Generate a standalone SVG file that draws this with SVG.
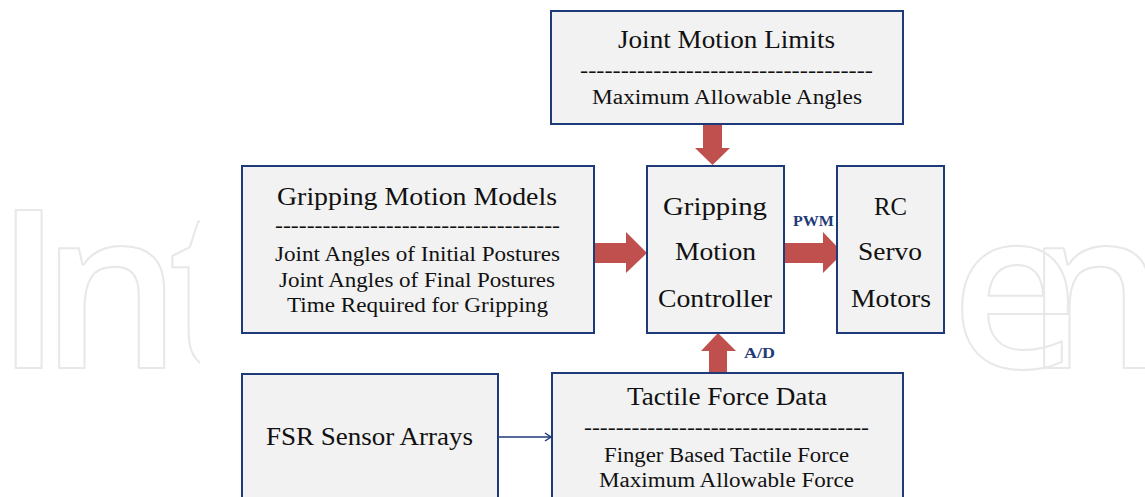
<svg xmlns="http://www.w3.org/2000/svg" width="1145" height="497" viewBox="0 0 1145 497">
<style>
.box{fill:#f2f2f2;stroke:#1f3a78;stroke-width:2}
.t{font-family:"Liberation Serif",serif;fill:#111;text-anchor:middle}
.tt{font-size:25px}
.ts{font-size:20px}
.lbl{font-family:"Liberation Serif",serif;font-weight:bold;font-size:15px;fill:#1f3a78;text-anchor:middle}
.red{fill:#c0504d}
.wm{font-family:"Open Sans",sans-serif;font-weight:600;font-size:221px;fill:none;stroke:#e8e8e8;stroke-width:2;stroke-linejoin:round}
</style>
<defs>
<marker id="chev" markerWidth="10" markerHeight="10" refX="8" refY="5" orient="auto" markerUnits="userSpaceOnUse">
<path d="M2,1 L8,5 L2,9" fill="none" stroke="#1f3a78" stroke-width="1.5"/>
</marker>
</defs>
<rect width="1145" height="497" fill="#fff"/>
<g id="watermark">
<text class="wm" x="-5 41 168" y="368">Int</text>
<text class="wm" x="951 1026" y="368">en</text>
<rect x="200" y="0" width="755" height="497" fill="#fff"/>
</g>
<g id="connectors">
<polygon class="red" points="703,124 722,124 722,148 730,148 712.5,165 695,148 703,148"/>
<polygon class="red" points="594,243 626,243 626,232 647,253 626,273 626,263 594,263"/>
<polygon class="red" points="785,243 823,243 823,232 843,253 823,273 823,263 785,263"/>
<polygon class="red" points="709,373 727,373 727,351 736,351 718,333 701,351 709,351"/>
<line x1="498" y1="437" x2="551" y2="437" stroke="#1f3a78" stroke-width="1.5" marker-end="url(#chev)"/>
<text class="lbl" x="813.5" y="226" textLength="41" lengthAdjust="spacingAndGlyphs">PWM</text>
<text class="lbl" x="759.5" y="358" textLength="31" lengthAdjust="spacingAndGlyphs">A/D</text>
</g>
<g id="joint-limits">
<rect class="box" x="551" y="11" width="352" height="113"/>
<text class="t tt" x="726.5" y="48" textLength="217" lengthAdjust="spacingAndGlyphs">Joint Motion Limits</text>
<text class="t ts" x="726.5" y="77" textLength="293" lengthAdjust="spacingAndGlyphs">------------------------------------</text>
<text class="t ts" x="727" y="104" textLength="270" lengthAdjust="spacingAndGlyphs">Maximum Allowable Angles</text>
</g>
<g id="motion-models">
<rect class="box" x="242" y="166" width="352" height="167"/>
<text class="t tt" x="417" y="205" textLength="280" lengthAdjust="spacingAndGlyphs">Gripping Motion Models</text>
<text class="t ts" x="417.5" y="232" textLength="285" lengthAdjust="spacingAndGlyphs">------------------------------------</text>
<text class="t ts" x="417.5" y="261" textLength="285" lengthAdjust="spacingAndGlyphs">Joint Angles of Initial Postures</text>
<text class="t ts" x="417" y="287" textLength="276" lengthAdjust="spacingAndGlyphs">Joint Angles of Final Postures</text>
<text class="t ts" x="417.5" y="312" textLength="261" lengthAdjust="spacingAndGlyphs">Time Required for Gripping</text>
</g>
<g id="controller">
<rect class="box" x="647" y="166" width="137" height="167"/>
<text class="t tt" x="715" y="215" textLength="104" lengthAdjust="spacingAndGlyphs">Gripping</text>
<text class="t tt" x="715.5" y="260" textLength="81" lengthAdjust="spacingAndGlyphs">Motion</text>
<text class="t tt" x="715" y="307" textLength="114" lengthAdjust="spacingAndGlyphs">Controller</text>
</g>
<g id="rc-servo">
<rect class="box" x="837" y="166" width="107" height="167"/>
<text class="t tt" x="890.5" y="215" textLength="33" lengthAdjust="spacingAndGlyphs">RC</text>
<text class="t tt" x="890" y="260" textLength="64" lengthAdjust="spacingAndGlyphs">Servo</text>
<text class="t tt" x="891" y="307" textLength="80" lengthAdjust="spacingAndGlyphs">Motors</text>
</g>
<g id="fsr">
<rect class="box" x="242" y="374" width="256" height="140"/>
<text class="t tt" x="369.5" y="445" textLength="207" lengthAdjust="spacingAndGlyphs">FSR Sensor Arrays</text>
</g>
<g id="tactile">
<rect class="box" x="552" y="373" width="351" height="140"/>
<text class="t tt" x="727" y="405" textLength="200" lengthAdjust="spacingAndGlyphs">Tactile Force Data</text>
<text class="t ts" x="726.5" y="434" textLength="285" lengthAdjust="spacingAndGlyphs">------------------------------------</text>
<text class="t ts" x="726.5" y="462" textLength="245" lengthAdjust="spacingAndGlyphs">Finger Based Tactile Force</text>
<text class="t ts" x="726.5" y="487" textLength="255" lengthAdjust="spacingAndGlyphs">Maximum Allowable Force</text>
</g>
</svg>
